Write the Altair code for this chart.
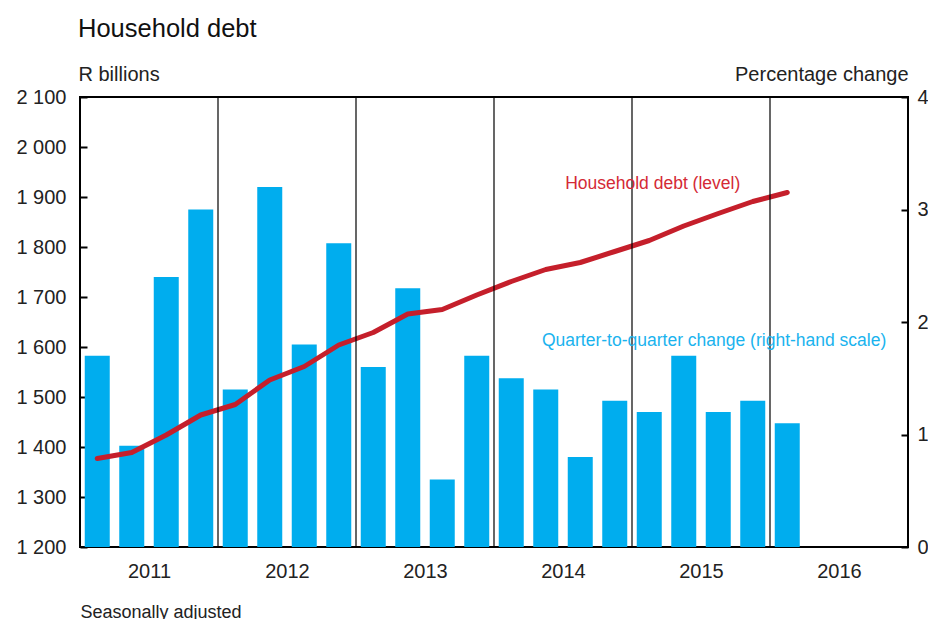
import altair as alt
import pandas as pd

FONT = "Liberation Sans"

quarters = ["2011Q1", "2011Q2", "2011Q3", "2011Q4",
            "2012Q1", "2012Q2", "2012Q3", "2012Q4",
            "2013Q1", "2013Q2", "2013Q3", "2013Q4",
            "2014Q1", "2014Q2", "2014Q3", "2014Q4",
            "2015Q1", "2015Q2", "2015Q3", "2015Q4",
            "2016Q1"]
change = [1.7, 0.9, 2.4, 3.0, 1.4, 3.2, 1.8, 2.7, 1.6, 2.3, 0.6, 1.7,
          1.5, 1.4, 0.8, 1.3, 1.2, 1.7, 1.2, 1.3, 1.1]
level = [1377, 1389, 1424, 1464, 1485, 1534, 1561, 1604, 1629, 1666, 1675, 1704,
         1731, 1755, 1769, 1791, 1813, 1842, 1867, 1891, 1909]
year_labels = ["2011", "2012", "2013", "2014", "2015", "2016"]
year_bounds = [4, 8, 12, 16, 20]
left_ticks = [1200, 1300, 1400, 1500, 1600, 1700, 1800, 1900, 2000, 2100]
right_ticks = [0, 1, 2, 3, 4]

df = pd.DataFrame({"quarter": quarters, "idx": list(range(len(quarters))),
                   "change": change, "level": level})
bounds_df = pd.DataFrame({"b": year_bounds})
red_label = pd.DataFrame({"text": ["Household debt (level)"], "x": [16.6], "y": [1926]})
blue_label = pd.DataFrame({"text": ["Quarter-to-quarter change (right-hand scale)"],
                           "x": [13.39], "y": [1612]})

BLUE = "#00ADEE"
RED = "#C51F2B"

xscale = alt.Scale(domain=[0, 24], nice=False, zero=False, padding=0)
year_arr = "[" + ",".join("'%s'" % y for y in year_labels) + "]"
xaxis = alt.Axis(values=[2, 6, 10, 14, 18, 22],
                 labelExpr=year_arr + "[floor(datum.value / 4)]",
                 grid=False, ticks=False, domain=False,
                 labelFont=FONT, labelFontSize=20, labelColor="#222", labelPadding=14,
                 title="Seasonally adjusted", titleFont=FONT, titleFontSize=18,
                 titleFontWeight="normal", titleColor="#222",
                 titleX=0, titleY=56, titleAlign="left", titleBaseline="top")

lscale = alt.Scale(domain=[1200, 2100], nice=False, zero=False)
rscale = alt.Scale(domain=[0, 4], nice=False, zero=False)

laxis = alt.Axis(orient="left", values=left_ticks, offset=-7, tickSize=7, tickWidth=2,
                 tickColor="black", domain=False, grid=False,
                 labelExpr="replace(format(datum.value, ','), ',', ' ')",
                 labelFont=FONT, labelFontSize=20, labelColor="#222", labelPadding=14,
                 title="R billions", titleAngle=0, titleAlign="left",
                 titleBaseline="alphabetic", titleX=-9, titleY=-17,
                 titleFont=FONT, titleFontSize=20, titleFontWeight="normal", titleColor="#222")
raxis = alt.Axis(orient="right", values=right_ticks, offset=-7, tickSize=7, tickWidth=2,
                 tickColor="black", domain=False, grid=False,
                 labelFont=FONT, labelFontSize=20, labelColor="#222", labelPadding=9,
                 title="Percentage change", titleAngle=0, titleAlign="right",
                 titleBaseline="alphabetic", titleX=7, titleY=-17,
                 titleFont=FONT, titleFontSize=20, titleFontWeight="normal", titleColor="#222")

base = alt.Chart(df).transform_calculate(pos="datum.idx + 0.5")

bars = base.mark_bar(size=25, color=BLUE).encode(
    x=alt.X("pos:Q", scale=xscale, axis=xaxis),
    y=alt.Y("change:Q", scale=rscale, axis=raxis),
)

line = base.mark_line(color=RED, strokeWidth=5, strokeCap="round", strokeJoin="round").encode(
    x=alt.X("pos:Q", scale=xscale, axis=xaxis),
    y=alt.Y("level:Q", scale=lscale, axis=laxis),
)

rules = alt.Chart(bounds_df).mark_rule(color="black", strokeWidth=1.2).encode(
    x=alt.X("b:Q", scale=xscale, axis=xaxis),
)

red_text = alt.Chart(red_label).mark_text(font=FONT, fontSize=17.5, color="#D42A36",
                                          align="center", baseline="middle").encode(
    x=alt.X("x:Q", scale=xscale, axis=xaxis),
    y=alt.Y("y:Q", scale=lscale, axis=laxis),
    text="text:N",
)
blue_text = alt.Chart(blue_label).mark_text(font=FONT, fontSize=17.5, color="#1AB3EE",
                                            align="left", baseline="middle").encode(
    x=alt.X("x:Q", scale=xscale, axis=xaxis),
    y=alt.Y("y:Q", scale=lscale, axis=laxis),
    text="text:N",
)

left = alt.layer(line, rules, red_text, blue_text)

chart = alt.layer(bars, left).resolve_scale(y="independent").properties(
    width=828, height=450,
    autosize=alt.AutoSizeParams(type="none"),
    padding={"left": 72, "top": 89, "right": 20, "bottom": 72},
    background="white",
    view=alt.ViewBackground(stroke="black", strokeWidth=2),
    title=alt.TitleParams("Household debt", anchor="start", frame="group",
                          font=FONT, fontSize=25.5, fontWeight="normal", color="#111",
                          baseline="alphabetic", offset=2, dx=-2),
).configure_view(stroke="black", strokeWidth=2)

chart.save("out.html", embed_options={"renderer": "svg", "actions": False})
